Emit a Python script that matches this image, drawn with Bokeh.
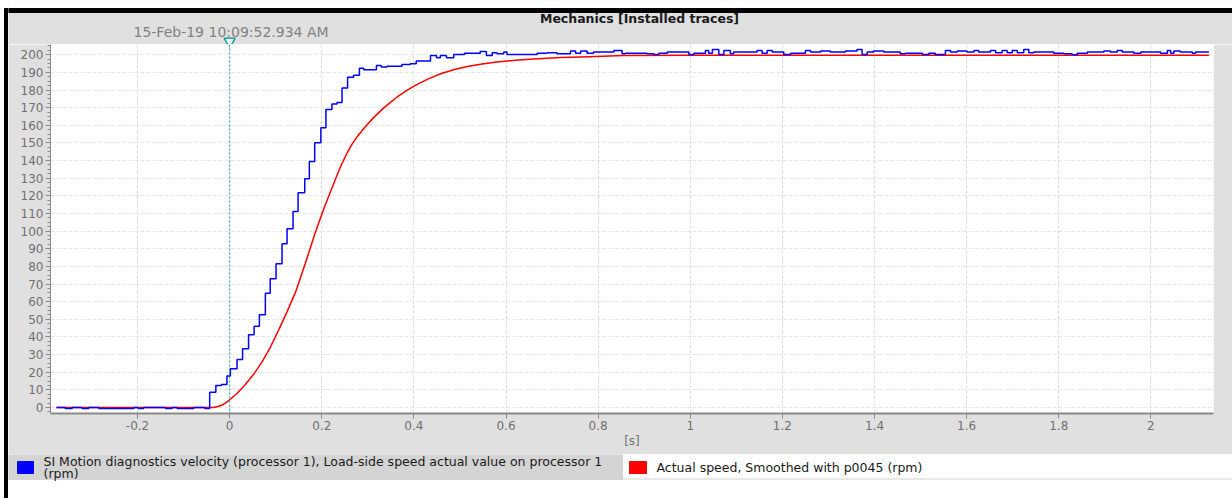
from bokeh.plotting import figure
from bokeh.models import (Range1d, SingleIntervalTicker, CustomJSTickFormatter, Span)
from bokeh.layouts import column, row
from bokeh.core.properties import value
from bokeh.embed import file_html
from bokeh.resources import INLINE

# ---------------- data ----------------
TITLE = "Mechanics [Installed traces]"
TIMESTAMP = "15-Feb-19  10:09:52.934 AM"
X_LABEL = "[s]"
BLUE_NAME_1 = "SI Motion diagnostics velocity (processor 1), Load-side speed actual value on processor 1"
BLUE_NAME_2 = "(rpm)"
RED_NAME = "Actual speed, Smoothed with p0045 (rpm)"
CURSOR_T = 0.0

blue_t = [-0.376, -0.357, -0.342, -0.3205, -0.306, -0.284, -0.208, -0.199, -0.187, -0.139, -0.125,
          -0.114, -0.078, -0.054, -0.0434, -0.030, -0.018, -0.006, 0.0015, 0.016, 0.028, 0.041,
          0.053, 0.0645, 0.0775, 0.088, 0.1007, 0.1137, 0.1246, 0.1376, 0.1485, 0.163, 0.173,
          0.1846, 0.198, 0.209, 0.222, 0.233, 0.244, 0.256, 0.269, 0.2817, 0.291, 0.3186, 0.329,
          0.342, 0.374, 0.392, 0.405, 0.436, 0.449, 0.4575, 0.4706, 0.4865, 0.5097, 0.544, 0.5574,
          0.570, 0.5806, 0.595, 0.602, 0.6675, 0.689, 0.711, 0.740, 0.751, 0.762, 0.776, 0.790,
          0.834, 0.852, 0.859, 0.906, 0.921, 0.932, 0.950, 0.997, 1.008, 1.033, 1.040, 1.048,
          1.062, 1.073, 1.087, 1.094, 1.145, 1.156, 1.167, 1.178, 1.203, 1.218, 1.250, 1.261,
          1.283, 1.304, 1.337, 1.362, 1.373, 1.384, 1.398, 1.420, 1.456, 1.467, 1.504, 1.518,
          1.532, 1.554, 1.565, 1.580, 1.601, 1.616, 1.626, 1.652, 1.663, 1.677, 1.688, 1.699,
          1.710, 1.724, 1.735, 1.746, 1.789, 1.811, 1.829, 1.840, 1.862, 1.898, 1.912, 1.927,
          1.938, 1.963, 1.978, 2.021, 2.036, 2.043, 2.050, 2.064, 2.090, 2.097, 2.126]
blue_v = [0.0, -0.6, 0.0, -0.6, 0.0, -0.5, 0.0, -0.5, 0.0, -0.5, 0.0,
          -0.5, 0.0, -0.6, 8.7, 12.5, 13.0, 17.8, 21.9, 27.2, 33.3, 41.2,
          46.1, 52.6, 64.8, 73.0, 81.5, 92.8, 101.3, 111.1, 121.7, 129.7, 139.5,
          150.1, 158.6, 169.0, 172.0, 172.9, 181.1, 187.3, 188.3, 192.4, 191.5, 193.9, 193.0,
          193.5, 194.5, 194.9, 196.4, 199.6, 198.3, 199.6, 198.3, 200.2, 200.9, 201.9, 199.6,
          201.1, 200.5, 201.5, 200.2, 200.9, 201.1, 200.5, 202.1, 200.9, 202.1, 200.9, 201.5,
          202.4, 200.5, 200.9, 200.5, 200.2, 200.9, 201.5, 200.2, 200.9, 202.4, 200.9, 203.0,
          200.2, 202.4, 200.5, 201.5, 202.4, 200.9, 202.4, 201.5, 200.2, 200.9, 202.4, 201.5,
          202.1, 201.5, 202.1, 203.0, 200.2, 201.5, 202.1, 201.5, 200.5, 200.9, 200.2, 200.9,
          200.2, 202.4, 201.5, 202.1, 201.5, 202.4, 201.5, 202.4, 201.1, 202.4, 201.1, 202.4,
          201.1, 203.0, 201.1, 201.5, 200.9, 200.5, 200.0, 200.9, 201.5, 202.1, 201.5, 202.4,
          201.5, 200.9, 201.5, 200.9, 202.4, 200.9, 202.1, 201.5, 200.9, 201.5, 201.5]

red_t = [-0.376, -0.035, -0.025, -0.015, -0.007, 0.0, 0.017, 0.034, 0.052, 0.070, 0.088, 0.106,
         0.125, 0.143, 0.164, 0.185, 0.207, 0.230, 0.242, 0.255, 0.265, 0.275, 0.293, 0.312,
         0.331, 0.347, 0.363, 0.383, 0.403, 0.430, 0.458, 0.486, 0.516, 0.548, 0.580, 0.620,
         0.660, 0.720, 0.780, 0.855, 1.0, 1.4, 1.8, 2.126]
red_v = [0.0, 0.0, 0.6, 1.6, 2.9, 4.4, 8.2, 13.0, 18.8, 25.7, 34.0, 43.7,
         54.5, 65.4, 81.5, 98.5, 114.5, 129.7, 137.3, 144.4, 149.0, 152.9, 158.7, 164.2,
         169.0, 172.6, 175.9, 179.5, 182.6, 186.2, 189.2, 191.5, 193.3, 194.8, 195.9, 196.9,
         197.6, 198.4, 198.9, 199.5, 199.7, 199.7, 199.7, 199.7]

# ---------------- layout constants ----------------
W = 1224
X0, X1 = -0.389, 2.136
Y0, Y1 = -3.4, 205.8
BL, BR = 42, 19
GRAY = "#e0e0e0"
FONT = "DejaVu Sans"


def bare(fig):
    fig.outline_line_color = None
    fig.grid.visible = False
    fig.frame_align = False
    return fig


# ---------------- left frame strip ----------------
strip = bare(figure(width=8, height=498, x_range=Range1d(0, 8), y_range=Range1d(0, 498),
                    x_axis_type=None, y_axis_type=None, min_border=0,
                    toolbar_location=None, output_backend="svg"))
strip.background_fill_color = "white"
strip.border_fill_color = "white"
strip.quad(left=[4], right=[8], bottom=[0], top=[490], color="black")

# ---------------- header ----------------
hdr = bare(figure(width=W, height=44, x_range=Range1d(0, W), y_range=Range1d(0, 44),
                  x_axis_type=None, y_axis_type=None, min_border=0,
                  toolbar_location=None, output_backend="svg"))
hdr.background_fill_color = GRAY
hdr.border_fill_color = GRAY
hdr.quad(left=[0], right=[W], bottom=[36], top=[44], color="white")
hdr.quad(left=[0], right=[W], bottom=[32], top=[36], color="black")
hdr.text(x=[631], y=[26], text=[TITLE], text_font=value(FONT), text_font_size="12.5px",
         text_font_style="bold", text_color="#1a1a1a", text_align="center", text_baseline="middle")
hdr.text(x=[125], y=[12.3], text=[TIMESTAMP], text_font=value(FONT), text_font_size="14px",
         text_color="#828282", text_align="left", text_baseline="middle")
frame_w = W - BL - BR
cx = BL + (CURSOR_T - X0) / (X1 - X0) * frame_w
hdr.scatter(x=[cx], y=[3], marker="inverted_triangle", size=11, line_color="#1f9f9f",
            line_width=1.5, fill_color="#f0f0f0")

# ---------------- main plot ----------------
p = figure(width=W, height=410, x_range=Range1d(X0, X1), y_range=Range1d(Y0, Y1),
           min_border_left=BL, min_border_right=BR, min_border_top=0, min_border_bottom=41,
           toolbar_location=None, output_backend="svg")
p.frame_align = False
p.background_fill_color = "white"
p.border_fill_color = GRAY
p.outline_line_color = None

p.xaxis.ticker = SingleIntervalTicker(interval=0.2, num_minor_ticks=0)
p.xaxis.formatter = CustomJSTickFormatter(code="return (Math.round(tick*10)/10).toString();")
p.yaxis.ticker = SingleIntervalTicker(interval=10, num_minor_ticks=4)
p.xaxis.axis_label = X_LABEL
for ax in (p.xaxis[0], p.yaxis[0]):
    ax.axis_line_color = "#8a8a8a"
    ax.major_tick_line_color = "#8a8a8a"
    ax.minor_tick_line_color = "#8a8a8a"
    ax.major_tick_in = 0
    ax.major_tick_out = 5
    ax.minor_tick_in = 0
    ax.minor_tick_out = 3
    ax.major_label_text_color = "#707070"
    ax.major_label_text_font = FONT
    ax.major_label_text_font_size = "12px"
    ax.major_label_standoff = 2
p.xaxis.axis_line_width = 2
p.xaxis.axis_label_text_font = FONT
p.xaxis.axis_label_text_font_size = "12px"
p.xaxis.axis_label_text_font_style = "normal"
p.xaxis.axis_label_text_color = "#707070"
p.xaxis.axis_label_standoff = 1

p.xgrid.grid_line_color = "#dcdcdc"
p.xgrid.grid_line_dash = "3 2"
p.ygrid.grid_line_color = "#e6e6e6"
p.ygrid.grid_line_dash = "4 2"

p.line(red_t, red_v, line_color="#ff0000", line_width=1.5)
p.step(blue_t, blue_v, mode="after", line_color="#0000ff", line_width=1.5)
p.add_layout(Span(location=CURSOR_T, dimension="height", line_color="#1f9f9f",
                  line_dash="2 2", line_width=1))

# ---------------- legend strip ----------------
lg = bare(figure(width=W, height=44, x_range=Range1d(0, W), y_range=Range1d(0, 44),
                 x_axis_type=None, y_axis_type=None, min_border=0,
                 toolbar_location=None, output_backend="svg"))
lg.background_fill_color = "white"
lg.border_fill_color = "white"
lg.quad(left=[0], right=[614], bottom=[19], top=[44], color="#d4d4d4")
lg.segment(x0=[614], y0=[19.5], x1=[W], y1=[19.5], line_color="#d0d0d0", line_width=1)
lg.quad(left=[9], right=[25], bottom=[25], top=[37], color="#0000ff")
lg.quad(left=[621], right=[638], bottom=[25], top=[37], color="#ff0000")
lg.text(x=[35, 35], y=[37.3, 25.3], text=[BLUE_NAME_1, BLUE_NAME_2], text_font=value(FONT),
        text_font_size="12.5px", text_color="#1a1a1a", text_align="left", text_baseline="middle")
lg.text(x=[648], y=[31.3], text=[RED_NAME], text_font=value(FONT),
        text_font_size="12.5px", text_color="#1a1a1a", text_align="left", text_baseline="middle")

layout = row(strip, column(hdr, p, lg, spacing=0), spacing=0)
open("out.html", "w").write(file_html(layout, INLINE))
